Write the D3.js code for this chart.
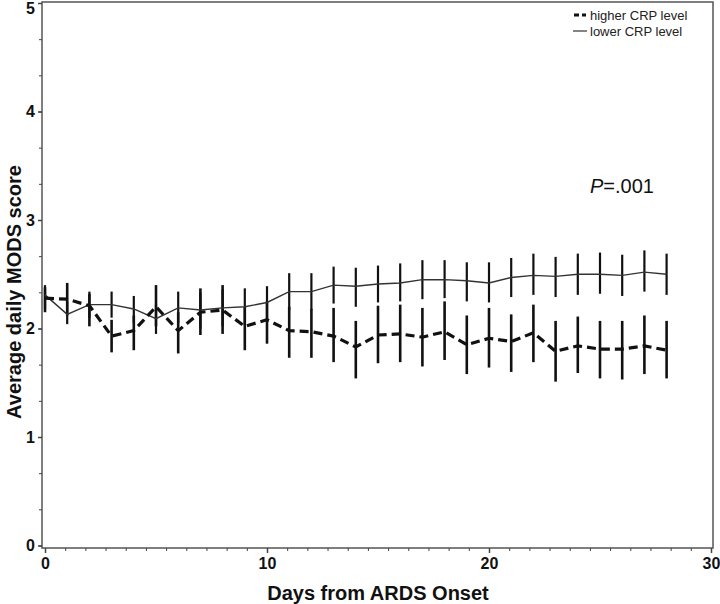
<!DOCTYPE html>
<html>
<head>
<meta charset="utf-8">
<script src="https://cdn.jsdelivr.net/npm/d3@7"></script>
<style>
  body { margin: 0; background: #fff; }
  svg text { font-family: Arial, "Liberation Sans", sans-serif; }
</style>
</head>
<body>
<div id="chart"></div>
<script>
// days from onset
var days = d3.range(0, 29);

// higher CRP level (dashed)
var highMean = [2.28, 2.27, 2.21, 1.93, 1.98, 2.20, 1.98, 2.15, 2.17, 2.02, 2.08, 1.98, 1.97, 1.93, 1.83,
                1.94, 1.95, 1.92, 1.97, 1.85, 1.91, 1.88, 1.96, 1.79, 1.84, 1.81, 1.81, 1.84, 1.80];
var highLow  = [2.15, 2.12, 2.02, 1.78, 1.80, 2.02, 1.77, 1.94, 1.95, 1.80, 1.86, 1.73, 1.73, 1.69, 1.54,
                1.68, 1.69, 1.65, 1.71, 1.58, 1.64, 1.60, 1.69, 1.51, 1.59, 1.54, 1.53, 1.58, 1.54];
var highHigh = [2.38, 2.42, 2.32, 2.08, 2.12, 2.40, 2.15, 2.37, 2.40, 2.20, 2.25, 2.20, 2.18, 2.19, 2.07,
                2.21, 2.22, 2.19, 2.25, 2.12, 2.19, 2.13, 2.22, 2.07, 2.11, 2.07, 2.07, 2.12, 2.07];

// lower CRP level (solid)
var lowMean  = [2.31, 2.13, 2.22, 2.22, 2.18, 2.09, 2.19, 2.17, 2.19, 2.20, 2.24, 2.34, 2.34, 2.40, 2.39,
                2.41, 2.42, 2.45, 2.45, 2.44, 2.42, 2.47, 2.49, 2.48, 2.50, 2.50, 2.49, 2.52, 2.50];
var lowLow   = [2.18, 2.04, 2.10, 2.10, 2.05, 1.95, 2.05, 2.00, 2.02, 2.03, 2.08, 2.17, 2.17, 2.23, 2.20,
                2.24, 2.25, 2.27, 2.28, 2.25, 2.24, 2.29, 2.31, 2.29, 2.31, 2.32, 2.30, 2.34, 2.31];
var lowHigh  = [2.40, 2.25, 2.34, 2.34, 2.30, 2.22, 2.34, 2.33, 2.36, 2.37, 2.39, 2.51, 2.51, 2.57, 2.56,
                2.58, 2.60, 2.63, 2.63, 2.61, 2.61, 2.65, 2.69, 2.66, 2.69, 2.70, 2.68, 2.72, 2.69];

var xTicks = [0, 10, 20, 30];
var yTicks = [0, 1, 2, 3, 4, 5];
var legendLabels = ["higher CRP level", "lower CRP level"];

var width = 720, height = 604;

var svg = d3.select("#chart").append("svg")
    .attr("width", width)
    .attr("height", height);

var x = d3.scaleLinear().domain([0, 30]).range([45, 711]);
var y = d3.scaleLinear().domain([0, 5]).range([545.5, 3]);

// frame
svg.append("rect")
    .attr("x", 42).attr("y", 2)
    .attr("width", 671).attr("height", 546)
    .attr("fill", "none")
    .attr("stroke", "#555")
    .attr("stroke-width", 1.5);

// x axis (bottom of frame)
var xMinor = d3.range(0, 30.001, 10 / 11);
svg.append("g")
    .attr("transform", "translate(0,548)")
    .call(d3.axisBottom(x).tickValues(xMinor).tickSize(3).tickFormat(""))
    .call(function(g) { g.select(".domain").remove(); g.selectAll("line").attr("stroke", "#444"); });

var xAxis = svg.append("g")
    .attr("transform", "translate(0,548)")
    .call(d3.axisBottom(x).tickValues(xTicks).tickSize(5).tickPadding(5).tickFormat(d3.format("d")));
xAxis.select(".domain").remove();
xAxis.selectAll("line").attr("stroke", "#444").attr("stroke-width", 1.5);
xAxis.selectAll("text")
    .attr("fill", "#111")
    .style("font-size", "16px")
    .style("font-weight", "bold");

// y axis (left of frame)
var yMinor = d3.range(0, 5.001, 1 / 3);
svg.append("g")
    .attr("transform", "translate(42,0)")
    .call(d3.axisLeft(y).tickValues(yMinor).tickSize(3).tickFormat(""))
    .call(function(g) { g.select(".domain").remove(); g.selectAll("line").attr("stroke", "#444"); });

var yAxis = svg.append("g")
    .attr("transform", "translate(42,0)")
    .call(d3.axisLeft(y).tickValues(yTicks).tickSize(4).tickPadding(3).tickFormat(d3.format("d")));
yAxis.select(".domain").remove();
yAxis.selectAll("line").attr("stroke", "#444").attr("stroke-width", 1.5);
yAxis.selectAll("text")
    .attr("fill", "#111")
    .style("font-size", "16px")
    .style("font-weight", "bold");
// keep top label inside the window
yAxis.selectAll(".tick").filter(function(d) { return d === 5; })
    .select("text").attr("y", 5);

// axis titles
svg.append("text")
    .attr("x", 378).attr("y", 600)
    .attr("text-anchor", "middle")
    .style("font-size", "20px")
    .style("font-weight", "bold")
    .attr("fill", "#111")
    .text("Days from ARDS Onset");

svg.append("text")
    .attr("transform", "translate(21,292) rotate(-90)")
    .attr("text-anchor", "middle")
    .style("font-size", "20px")
    .style("font-weight", "bold")
    .attr("fill", "#111")
    .text("Average daily MODS score");

// error bars
var bars = svg.append("g");
bars.selectAll(".barHigh")
    .data(days)
    .enter().append("line")
    .attr("class", "barHigh")
    .attr("x1", function(d) { return x(d); })
    .attr("x2", function(d) { return x(d); })
    .attr("y1", function(d, i) { return y(highLow[i]); })
    .attr("y2", function(d, i) { return y(highHigh[i]); })
    .attr("stroke", "#111")
    .attr("stroke-width", 2.6);

bars.selectAll(".barLow")
    .data(days)
    .enter().append("line")
    .attr("class", "barLow")
    .attr("x1", function(d) { return x(d); })
    .attr("x2", function(d) { return x(d); })
    .attr("y1", function(d, i) { return y(lowLow[i]); })
    .attr("y2", function(d, i) { return y(lowHigh[i]); })
    .attr("stroke", "#111")
    .attr("stroke-width", 2.2);

// mean lines
var lineHigh = d3.line()
    .x(function(d) { return x(d); })
    .y(function(d, i) { return y(highMean[i]); });
var lineLow = d3.line()
    .x(function(d) { return x(d); })
    .y(function(d, i) { return y(lowMean[i]); });

svg.append("path")
    .datum(days)
    .attr("d", lineLow)
    .attr("fill", "none")
    .attr("stroke", "#333")
    .attr("stroke-width", 1.4);

svg.append("path")
    .datum(days)
    .attr("d", lineHigh)
    .attr("fill", "none")
    .attr("stroke", "#111")
    .attr("stroke-width", 3.2)
    .attr("stroke-dasharray", "9,5");

// legend
var legend = svg.append("g");
legend.append("line")
    .attr("x1", 574).attr("x2", 586).attr("y1", 15).attr("y2", 15)
    .attr("stroke", "#111").attr("stroke-width", 3).attr("stroke-dasharray", "5,3");
legend.append("line")
    .attr("x1", 573).attr("x2", 587).attr("y1", 31).attr("y2", 31)
    .attr("stroke", "#333").attr("stroke-width", 1.2);
legend.selectAll("text")
    .data(legendLabels)
    .enter().append("text")
    .attr("x", 590)
    .attr("y", function(d, i) { return 19.5 + i * 16; })
    .style("font-size", "13px")
    .attr("fill", "#222")
    .text(function(d) { return d; });

// p value
var ptext = svg.append("text")
    .attr("x", 590).attr("y", 193)
    .style("font-size", "20px")
    .attr("fill", "#111");
ptext.append("tspan").style("font-style", "italic").text("P");
ptext.append("tspan").text("=.001");
</script>
</body>
</html>
